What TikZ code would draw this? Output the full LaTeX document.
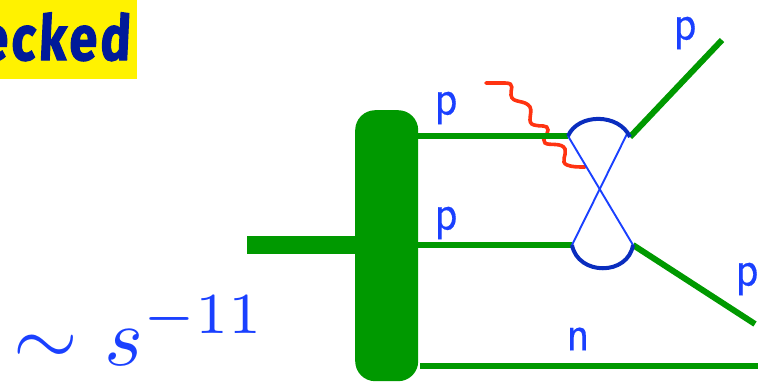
\documentclass[tikz,border=0pt]{standalone}
\usepackage{fontspec}
\newfontfamily\stampfont[FakeBold=2.2,FakeSlant=0.06,LetterSpace=7]{Fira Sans Bold}
\newfontfamily\labfont[FakeBold=0.35]{Latin Modern Sans}
\definecolor{hgreen}{HTML}{009900}
\definecolor{hblue}{HTML}{1A40FF}
\definecolor{arcblue}{HTML}{0A2DBE}
\definecolor{inkblue}{HTML}{001A99}
\definecolor{wavy}{HTML}{FF3311}
\tikzset{
  x=1pt,y=-1pt,
  leg/.style={draw=hgreen,line width=6pt},
  loopline/.style={draw=arcblue,line width=4pt},
  cross/.style={draw=hblue,line width=1.9pt},
  lab/.style={text=hblue,font=\labfont,xscale=4.4,yscale=5,inner sep=0pt},
  formula/.style={text=hblue,scale=8.3,inner sep=0pt,anchor=base west}
}
\begin{document}
\begin{tikzpicture}
\useasboundingbox (0,0) rectangle (758,381);
% stamp
\begin{scope}
\clip (0,0) rectangle (137,79);
\fill[yellow] (0,0) rectangle (137,79);
\node[anchor=base east,text=inkblue,inner sep=0pt,xscale=1,yscale=1.25] (stamp) at (130,60) {\fontsize{50}{50}\stampfont ecked};
\end{scope}
% blob
\node[fill=hgreen,rounded corners=20pt,minimum width=63pt,minimum height=271pt,inner sep=0pt,anchor=north west] (blob) at (355,110) {};
% free ends and junctions
\coordinate (in) at (247,245);
\coordinate (blobIn) at (356,245);
\coordinate (blobA) at (417,136);
\coordinate (blobB) at (417,245);
\coordinate (blobC) at (420,366);
\coordinate (endC) at (758,366);
\coordinate (a1) at (568,136);
\coordinate (a2) at (630,137);
\coordinate (a3) at (627,134);
\coordinate (b1) at (572,245);
\coordinate (b2) at (633,245);
\coordinate (outA) at (722,40);
\coordinate (outB) at (755,324);
\coordinate (ph0) at (486,83);
\coordinate (ph1) at (585,167);
% photon
\draw[line width=3.6pt,line cap=round,draw=wavy] (ph0) -- (505,83)
  .. controls (516,83) and (510,90) .. (511,95)
  .. controls (512,104) and (525,99) .. (530,107)
  .. controls (533,113) and (526,123) .. (534,125)
  .. controls (540,127) and (548,124) .. (548,130)
  .. controls (548,136) and (541,138) .. (545,143)
  .. controls (549,146) and (562,142) .. (565,149)
  .. controls (567,155) and (560,162) .. (567,165)
  .. controls (572,167) and (578,167) .. (ph1);
% legs
\draw[draw=hgreen,line width=18pt] (in) -- (blobIn);
\draw[leg] (blobA) -- (a1);
\draw[leg] (blobB) -- (b1);
\draw[leg] (blobC) -- (endC);
\draw[leg] (a2) -- (outA);
\draw[leg] (b2) -- (outB);
% crossing lines
\draw[cross] (a1) -- (b2);
\draw[cross] (a3) -- (b1);
% loops
\draw[loopline] (a1) .. controls (578,113) and (619,113) .. (a2);
\draw[loopline] (b1) .. controls (578,276) and (628,276) .. (b2);
% labels
\node[lab] (p1) at (446,108) {p};
\node[lab] (p2) at (446,223) {p};
\node[lab] (p3) at (685,33) {p};
\node[lab] (p4) at (747,279) {p};
\node[lab] (n1) at (578,339) {n};
\node[formula] (f) at (12,365) {$\sim\mskip0.6mu s$};
\node[formula] (g) at (142,333) {$\scriptstyle -11$};
\end{tikzpicture}
\end{document}
